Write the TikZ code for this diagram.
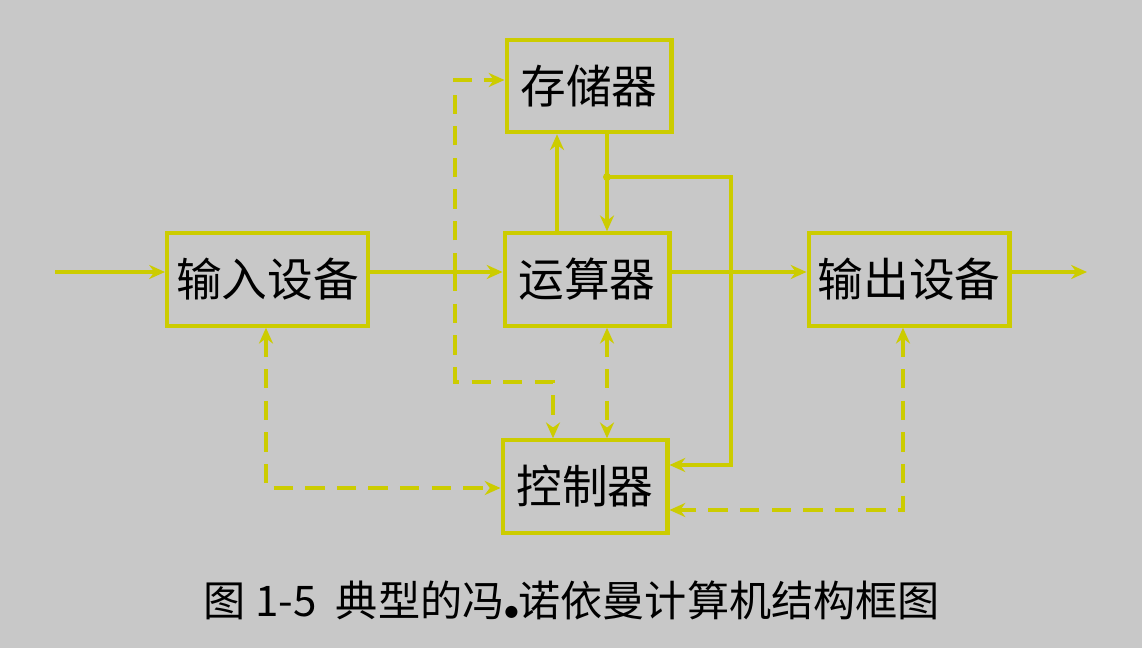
\documentclass[tikz,border=0pt]{standalone}
\usepackage{fontspec}
\setmainfont{Noto Sans CJK SC}
\usetikzlibrary{arrows.meta}
\definecolor{lineyel}{RGB}{204,204,0}
\definecolor{bggray}{RGB}{200,200,200}
\tikzset{
  unit/.style={draw=lineyel,line width=2.3pt,minimum width=3.3cm,minimum height=1.85cm,font=\fontsize{26}{28}\selectfont,inner sep=0pt},
  flow/.style={draw=lineyel,line width=2.3pt,-{Stealth[length=9pt,width=8pt]}},
  ctrl/.style={flow,dashed,dash pattern=on 11pt off 7pt},
  both/.style={{Stealth[length=9pt,width=8pt]}-{Stealth[length=9pt,width=8pt]}}
}
\begin{document}
\begin{tikzpicture}[x=0.02cm,y=-0.02cm]
        \fill[bggray](0,0)rectangle(1142,648);
        \useasboundingbox(0,0)rectangle(1142,648);
        \node[unit,minimum width=4.02cm](inp)at(267.5,279.5){输入设备};
        \node[unit](mem)at(589,86){存储器};
        \node[unit](alu)at(587,279.5){运算器};
        \node[unit,minimum width=4.02cm](out)at(909,279.5){输出设备};
        \node[unit](cu)at(585,486.5){控制器};
        \coordinate(in0)at(55,272);
        \coordinate(out0)at(1087,272);
        \coordinate(dot)at(607,177);
        \coordinate(split)at(455,272);

        \draw[flow](in0)--(in0-|inp.west);
        \draw[flow](split-|inp.east)--(split-|alu.west);
        \draw[flow](split-|alu.east)--(split-|out.west);
        \draw[flow](split-|out.east)--(out0);
        \draw[flow](557,0|-alu.north)--(557,0|-mem.south);
        \draw[flow](607,0|-mem.south)--(607,0|-alu.north);
        \fill[lineyel](dot)circle(4);
        \draw[flow](dot)--(731,177)--(731,465)--(cu.east|-0,465);

        \draw[ctrl](455,272)--(455,80)--(mem.west|-0,80);
        \draw[ctrl](455,272)--(455,382)--(553,382)--(553,0|-cu.north);
        \draw[ctrl,both](607,0|-alu.south)--(607,0|-cu.north);
        \draw[ctrl,both](266,0|-inp.south)--(266,488)--(cu.west|-0,488);
        \draw[ctrl,both](903,0|-out.south)--(903,510)--(cu.east|-0,510);

        \node[font=\fontsize{24}{26}\selectfont](cap)at(572,600){图 1-5\ \ 典型的冯{\fontspec{DejaVu Sans}\small●}诺依曼计算机结构框图};
\end{tikzpicture}
\end{document}
